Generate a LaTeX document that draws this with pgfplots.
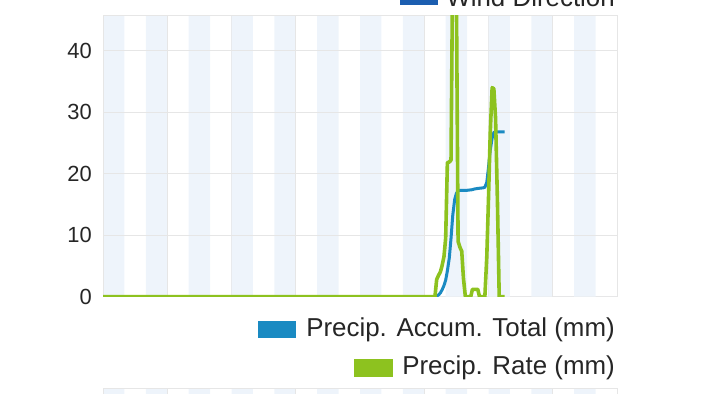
\documentclass[border=0pt]{standalone}
\usepackage{pgfplots}
\pgfplotsset{compat=1.18}
\usepackage{fontspec}
\setmainfont{Liberation Sans}
\definecolor{gridc}{HTML}{E6E6E6}
\definecolor{stripec}{HTML}{EEF4FB}
\definecolor{greenc}{HTML}{8DC21F}
\definecolor{bluec}{HTML}{1A8AC2}
\definecolor{winddir}{HTML}{1C5EB0}
\definecolor{txt}{HTML}{262626}

\begin{document}
\begin{tikzpicture}

% main chart
\begin{axis}[
  at={(103bp,97.3bp)}, anchor=south west,
  scale only axis, width=514bp, height=281.2bp,
  xmin=0, xmax=24, ymin=0, ymax=45.72,
  xtick={3,6,...,21}, xticklabel=\empty,
  ytick={0,10,20,30,40},
  grid=major, major grid style={color=gridc, line width=0.9bp},
  axis line style={color=gridc, line width=1bp},
  major tick length=0pt,
  /pgf/number format/assume math mode=true,
  yticklabel style={font=\fontsize{22}{22}\selectfont, color=txt, inner sep=0pt, anchor=east, xshift=-11bp},
]
% background stripes
\addplot[const plot, fill=stripec, draw=none, forget plot] coordinates {
(0,45.72) (1,0) (2,45.72) (3,0) (4,45.72) (5,0) (6,45.72) (7,0) (8,45.72) (9,0)
(10,45.72) (11,0) (12,45.72) (13,0) (14,45.72) (15,0) (16,45.72) (17,0)
(18,45.72) (19,0) (20,45.72) (21,0) (22,45.72) (23,0) (24,0)
} \closedcycle;
% grid lines over the stripes
\addplot[gridc, line width=0.9bp, forget plot] coordinates {(0,10) (24,10)};
\addplot[gridc, line width=0.9bp, forget plot] coordinates {(0,20) (24,20)};
\addplot[gridc, line width=0.9bp, forget plot] coordinates {(0,30) (24,30)};
\addplot[gridc, line width=0.9bp, forget plot] coordinates {(0,40) (24,40)};
\addplot[gridc, line width=0.9bp, forget plot] coordinates {(3,0) (3,45.72)};
\addplot[gridc, line width=0.9bp, forget plot] coordinates {(9,0) (9,45.72)};
\addplot[gridc, line width=0.9bp, forget plot] coordinates {(15,0) (15,45.72)};
\addplot[gridc, line width=0.9bp, forget plot] coordinates {(21,0) (21,45.72)};
\addplot[gridc, line width=1bp, forget plot] coordinates {(0,0) (0,45.72) (24,45.72) (24,0)};

% Precip. Accum. Total
\addplot[color=bluec, line width=3bp, line join=round] coordinates {
(0,0) (15.5,0) (15.58,0.1) (15.67,0.3) (15.75,0.6) (15.83,1.1) (15.92,1.8)
(16.00,2.7) (16.08,4.2) (16.17,6.3) (16.25,9.5) (16.33,13.2) (16.42,15.8)
(16.50,16.8) (16.58,17.2) (16.67,17.3) (17.00,17.3) (17.25,17.4) (17.33,17.5)
(17.50,17.6) (17.75,17.7) (17.83,17.8) (17.92,18.6) (18.00,21.0) (18.08,23.8)
(18.17,25.8) (18.25,26.7) (18.33,26.8) (18.75,26.8)
};

% Precip. Rate
\addplot[color=greenc, line width=3.6bp, line join=round] coordinates {
(0,0) (15.50,0) (15.58,2.8) (15.67,3.5) (15.75,4.0) (15.83,5.0) (15.92,6.5)
(16.00,9.5) (16.08,21.8) (16.17,21.9) (16.25,22.2) (16.33,55) (16.42,60)
(16.50,50) (16.58,9.0) (16.67,8.0) (16.75,7.4) (16.83,3.0) (16.92,0)
(17.17,0) (17.25,1.2) (17.33,1.2) (17.42,1.2) (17.50,1.2) (17.58,0)
(17.83,0) (17.92,6.5) (18.00,16) (18.08,26.5) (18.17,34) (18.25,33.8)
(18.33,29) (18.42,15) (18.50,0) (18.75,0)
};
\end{axis}

% cropped chart below
\begin{axis}[
  at={(103bp,-100bp)}, anchor=south west,
  scale only axis, width=514bp, height=106bp,
  xmin=0, xmax=24, ymin=0, ymax=1,
  xtick={3,6,...,21}, xticklabel=\empty, ytick=\empty,
  axis line style={color=gridc, line width=1bp},
  major tick length=0pt,
]
\addplot[const plot, fill=stripec, draw=none, forget plot] coordinates {
(0,1) (1,0) (2,1) (3,0) (4,1) (5,0) (6,1) (7,0) (8,1) (9,0)
(10,1) (11,0) (12,1) (13,0) (14,1) (15,0) (16,1) (17,0)
(18,1) (19,0) (20,1) (21,0) (22,1) (23,0) (24,0)
} \closedcycle;
\addplot[gridc, line width=0.9bp, forget plot] coordinates {(3,0) (3,1)};
\addplot[gridc, line width=0.9bp, forget plot] coordinates {(9,0) (9,1)};
\addplot[gridc, line width=0.9bp, forget plot] coordinates {(15,0) (15,1)};
\addplot[gridc, line width=0.9bp, forget plot] coordinates {(21,0) (21,1)};
\addplot[gridc, line width=1bp, forget plot] coordinates {(0,0) (0,1) (24,1) (24,0)};
\end{axis}

% legend of the chart above (cropped)
\fill[winddir] (400bp,388.7bp) rectangle (438bp,410bp);
\node[anchor=base east, inner sep=0pt, color=txt, font=\fontsize{26}{26}\selectfont] at (615bp,387.5bp) {Wind Direction};

% legend
\fill[bluec] (258bp,55.7bp) rectangle (296bp,73.3bp);
\node[anchor=base east, inner sep=0pt, color=txt, font=\fontsize{26}{26}\selectfont] at (615bp,57.3bp) {Precip. Accum. Total (mm)};
\fill[greenc] (354bp,16.7bp) rectangle (392.5bp,34.7bp);
\node[anchor=base east, inner sep=0pt, color=txt, font=\fontsize{26}{26}\selectfont] at (615bp,20bp) {Precip. Rate (mm)};

\pgfresetboundingbox
\path[use as bounding box] (0,0) rectangle (720bp,394bp);
\end{tikzpicture}
\end{document}
